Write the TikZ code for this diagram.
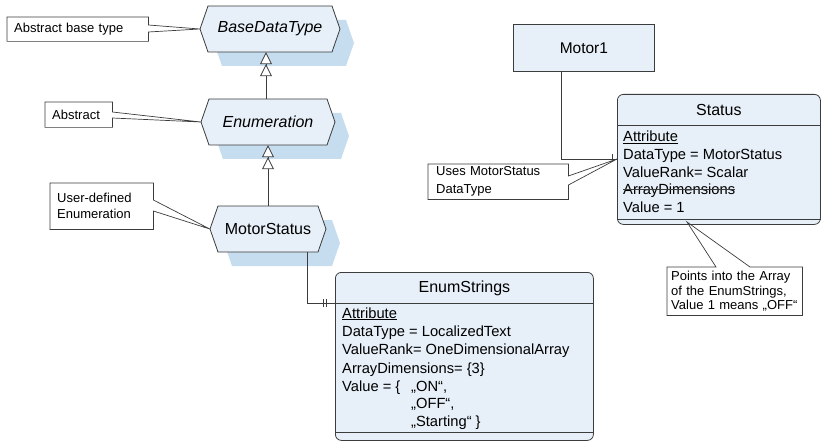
\documentclass[tikz,border=0pt]{standalone}
\usepackage{fontspec}
\setmainfont{Liberation Sans}
\usetikzlibrary{arrows.meta}
\definecolor{boxfill}{HTML}{E7EFF8}
\definecolor{shadowc}{HTML}{C5DDEE}
\definecolor{linec}{HTML}{3C3C3C}
\tikzset{
  ln/.style={draw=linec, line width=0.8pt},
  thinln/.style={draw=linec, line width=0.7pt},
  inh/.style={ln, -{Triangle[fill=white, length=12pt, width=12pt, sep=0pt]Triangle[fill=white, length=12pt, width=12pt]}},
  umlbox/.style={draw=linec, line width=0.8pt, fill=boxfill, rounded corners=6pt, inner sep=0pt, anchor=north west},
  plainbox/.style={draw=linec, line width=0.8pt, fill=boxfill, inner sep=0pt, anchor=north west},
  title/.style={font=\fontsize{16}{18}\selectfont, inner sep=0pt},
  attr/.style={font=\fontsize{14.7}{17}\selectfont, inner sep=0pt, anchor=base west},
  note/.style={font=\fontsize{13}{15}\selectfont, inner sep=0pt, inner xsep=7pt, align=left, anchor=north west},
}
\newcommand\hexa[7]{%
  \fill[shadowc] (#2+14,{(#3+#5)/2+14}) -- (#2+22,#3+14) -- (#4+6,#3+14) -- (#4+14,{(#3+#5)/2+14}) -- (#4+6,#5+14) -- (#2+22,#5+14) -- cycle;
  \filldraw[ln, fill=boxfill] (#2,{(#3+#5)/2}) -- (#2+8,#3) -- (#4-8,#3) -- (#4,{(#3+#5)/2}) -- (#4-8,#5) -- (#2+8,#5) -- cycle;
  \node[minimum width={#4-#2}, minimum height={#5-#3}, inner sep=0pt, font=#6] (#1) at ({(#2+#4)/2},{(#3+#5)/2}) {#7};
}
\begin{document}
\begin{tikzpicture}[x=1pt, y=-1pt]
\useasboundingbox (0,0) rectangle (822,441);

% hexagons
\hexa{Base}{200}{6}{340}{52}{\fontsize{16}{18}\selectfont\itshape}{BaseDataType}
\hexa{Enum}{201}{99}{335}{145}{\fontsize{16}{18}\selectfont\itshape}{Enumeration}
\hexa{MS}{210}{206}{326}{252}{\fontsize{16}{18}\selectfont}{MotorStatus}

% inheritance
\draw[inh] ([xshift=-2pt]Enum.north) -- ([xshift=-2pt]Enum.north |- Base.south);
\draw[inh] (MS.north) -- (MS.north |- Enum.south);

% EnumStrings class
\node[umlbox, minimum width=258, minimum height=168] (ES) at (335,272) {};
\draw[ln] (ES.west |- 0,303) -- (ES.east |- 0,303);
\draw[ln] (ES.west |- 0,432) -- (ES.east |- 0,432);
\node[title] (EST) at (ES.north |- 0,288) {EnumStrings};
\node[attr] (e1) at (342,318) {\underline{Attribute}};
\node[attr] (e2) at (342,336) {DataType = LocalizedText};
\node[attr] (e3) at (342,354) {ValueRank= OneDimensionalArray};
\node[attr] (e4) at (342,373) {ArrayDimensions= \{3\}};
\node[attr] (e5) at (342,391) {Value = \{};
\node[attr] (e5b) at (411,391) {„ON“,};
\node[attr] (e6) at (411,408) {„OFF“,};
\node[attr] (e7) at (411,426) {„Starting“ \}};

% MotorStatus -> EnumStrings
\draw[ln] ([xshift=39pt]MS.south) |- (ES.west |- 0,303);
\draw[ln] ([xshift=-9pt]ES.west |- 0,299) -- ([xshift=-9pt]ES.west |- 0,307);
\draw[ln] ([xshift=-12pt]ES.west |- 0,299) -- ([xshift=-12pt]ES.west |- 0,307);

% Motor1
\node[plainbox, minimum width=141, minimum height=47, font=\fontsize{15.5}{18}\selectfont] (M1) at (513,24) {Motor1};

% Status class
\node[umlbox, minimum width=203, minimum height=130] (St) at (617,94) {};
\draw[ln] (St.west |- 0,125) -- (St.east |- 0,125);
\draw[ln] (St.west |- 0,219) -- (St.east |- 0,219);
\node[title] (StT) at (St.north |- 0,110) {Status};
\node[attr] (s1) at (623,142) {\underline{Attribute}};
\node[attr] (s2) at (623,160) {DataType = MotorStatus};
\node[attr] (s3) at (623,177) {ValueRank= Scalar};
\node[attr] (s4) at (623,194) {ArrayDimensions};
\draw[line width=0.7pt, linec] ([yshift=4.5pt]s4.base west) -- ([yshift=4.5pt]s4.base east);
\node[attr] (s5) at (623,212) {Value = 1};

\coordinate (sIn) at (St.west |- 0,159);
\coordinate (vTip) at (687,222);

% Motor1 -> Status
\draw[ln] ([xshift=-22.5pt]M1.south) |- (sIn);
\draw[ln] ([xshift=-5pt]sIn) -- ++(0,-5);

% notes
\node[note, minimum width=141, minimum height=24, text width=127] (nBase) at (7,17) {Abstract base type};
\draw[thinln] (nBase.east |- 0,25) -- (nBase.north east) -- (nBase.north west) -- (nBase.south west) -- (nBase.south east) -- (nBase.east |- 0,32) -- (Base.west) -- cycle;

\node[note, minimum width=67, minimum height=25, text width=53] (nAbs) at (45,102) {Abstract};
\draw[thinln] (nAbs.east |- 0,112) -- (nAbs.north east) -- (nAbs.north west) -- (nAbs.south west) -- (nAbs.south east) -- (nAbs.east |- 0,118) -- (Enum.west) -- cycle;

\node[note, minimum width=103, minimum height=46, text width=89, font=\fontsize{13}{16}\selectfont] (nUser) at (50,183) {User-defined\\Enumeration};
\draw[thinln] (nUser.east |- 0,200) -- (nUser.north east) -- (nUser.north west) -- (nUser.south west) -- (nUser.south east) -- (nUser.east |- 0,211) -- (MS.west) -- cycle;

\node[note, minimum width=140, minimum height=35, inner xsep=8pt, text width=124, font=\fontsize{13}{18}\selectfont] (nUses) at (428,164) {Uses MotorStatus\\DataType};
\draw[thinln] (nUses.east |- 0,176) -- (nUses.north east) -- (nUses.north west) -- (nUses.south west) -- (nUses.south east) -- (nUses.east |- 0,185) -- (sIn) -- cycle;

\node[note, minimum width=135, minimum height=48, inner xsep=4pt, text width=127, font=\fontsize{13}{14.5}\selectfont] (nPts) at (667,267) {Points into the Array\\of the EnumStrings,\\Value 1 means „OFF“};
\draw[thinln] (nPts.north -| 716,0) -- (nPts.north west) -- (nPts.south west) -- (nPts.south east) -- (nPts.north east) -- (nPts.north -| 750,0) -- (vTip) -- cycle;
\end{tikzpicture}
\end{document}
